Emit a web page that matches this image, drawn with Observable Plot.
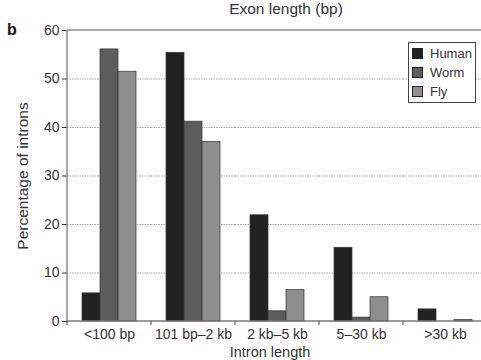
<!DOCTYPE html>
<html>
<head>
<meta charset="utf-8">
<script src="https://cdn.jsdelivr.net/npm/d3@7"></script>
<script src="https://cdn.jsdelivr.net/npm/@observablehq/plot@0.6"></script>
<style>
  html, body { margin: 0; padding: 0; background: #fff; }
  #wrap { position: relative; width: 481px; height: 360px; overflow: hidden; }
  #legend { position: absolute; left: 408px; top: 42px; width: 68px; height: 61px;
    border: 1px solid #444; background: #fff; font: 13px "Liberation Sans", Arial, sans-serif; color: #333; box-sizing: border-box; }
  #legend .row { position: absolute; left: 3px; height: 14px; line-height: 14px; }
  #legend .sw { display: inline-block; width: 9px; height: 9px; border: 1px solid #222; vertical-align: -1px; margin-right: 7px; }
</style>
</head>
<body>
<div id="wrap"></div>
<script>
const categories = ["<100 bp", "101 bp\u20132 kb", "2 kb\u20135 kb", "5\u201330 kb", ">30 kb"];
const species = ["Human", "Worm", "Fly"];
const human = [5.8, 55.4, 21.9, 15.2, 2.5];
const worm = [56.1, 41.2, 2.1, 0.8, 0.0];
const fly = [51.5, 37.0, 6.5, 5.0, 0.3];
const yTicks = [0, 10, 20, 30, 40, 50, 60];
const colors = ["#222222", "#5c5c5c", "#8e8e8e"];

const series = [human, worm, fly];
const data = [];
categories.forEach((c, i) => species.forEach((s, j) => data.push({cat: c, species: s, value: series[j][i]})));

const font = '"Liberation Sans", Arial, sans-serif';
const chart = Plot.plot({
  width: 481, height: 360,
  marginLeft: 67, marginRight: 0, marginTop: 30, marginBottom: 39,
  style: {fontFamily: font, fontSize: "14px", color: "#333", background: "white", overflow: "hidden"},
  facet: {data, x: "cat", marginRight: 0, marginLeft: 0},
  fx: {domain: categories, range: [67, 487], paddingInner: 0, paddingOuter: 0, tickSize: 0, tickPadding: 8, label: null},
  x: {domain: species, paddingInner: 0, paddingOuter: 0.8, axis: null},
  y: {domain: [0, 60], ticks: yTicks, tickSize: 5, tickPadding: 3, label: null},
  color: {domain: species, range: colors},
  marks: [
    Plot.ruleY([10, 20, 30, 40, 50], {stroke: "#aaa", strokeWidth: 1, strokeDasharray: "1.5,1"}),
    Plot.barY(data, {x: "species", y: "value", fill: "species", stroke: "#333", strokeWidth: 0.7})
  ]
});
const svg = d3.select(chart);
const ys = chart.scale("y");
const fxs = chart.scale("fx");
const y0 = ys.apply(0), y60 = ys.apply(60);
const left = 67;
const g = svg.append("g");
g.append("line").attr("x1", left).attr("x2", 481).attr("y1", y60).attr("y2", y60).attr("stroke", "#555").attr("stroke-width", 1.2);
g.append("line").attr("x1", left).attr("x2", left).attr("y1", y60).attr("y2", y0).attr("stroke", "#888").attr("stroke-width", 1.5);
g.append("line").attr("x1", left).attr("x2", 481).attr("y1", y0).attr("y2", y0).attr("stroke", "#777").attr("stroke-width", 1.5);
categories.forEach((c) => {
  const x = fxs.apply(c);
  g.append("line").attr("x1", x).attr("x2", x).attr("y1", y0).attr("y2", y0 + 4).attr("stroke", "#444").attr("stroke-width", 1);
});
g.append("text").attr("x", 12).attr("y", 35).attr("font-family", font).attr("font-size", 16).attr("font-weight", "bold").attr("fill", "#111").text("b");
g.append("text").attr("x", 286).attr("y", 14).attr("text-anchor", "middle").attr("font-family", font).attr("font-size", 15.5).attr("fill", "#333").text("Exon length (bp)");
g.append("text").attr("transform", "translate(28,176) rotate(-90)").attr("text-anchor", "middle").attr("font-family", font).attr("font-size", 15.5).attr("fill", "#333").text("Percentage of introns");
g.append("text").attr("x", 270).attr("y", 357).attr("text-anchor", "middle").attr("font-family", font).attr("font-size", 14.5).attr("fill", "#333").text("Intron length");

const wrap = document.getElementById("wrap");
wrap.appendChild(chart);
const legend = document.createElement("div");
legend.id = "legend";
species.forEach((s, i) => {
  const row = document.createElement("div");
  row.className = "row";
  row.style.top = (4 + i * 19) + "px";
  const sw = document.createElement("span");
  sw.className = "sw";
  sw.style.background = colors[i];
  row.appendChild(sw);
  row.appendChild(document.createTextNode(s));
  legend.appendChild(row);
});
wrap.appendChild(legend);
</script>
</body>
</html>
